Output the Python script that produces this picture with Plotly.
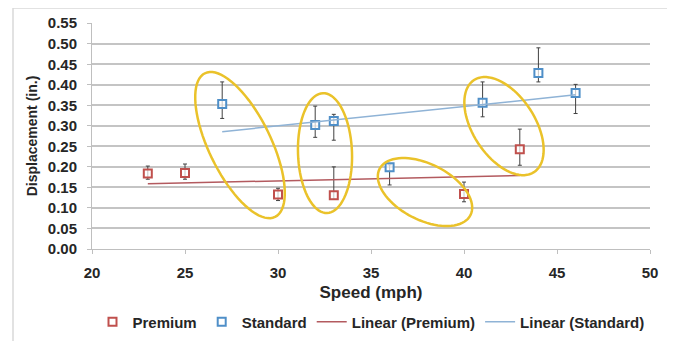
import numpy as np
import plotly.graph_objects as go

# ---- data ----
premium_speed = [23, 25, 30, 33, 40, 43]
premium_disp = [0.184, 0.185, 0.133, 0.131, 0.134, 0.243]
premium_err_plus = [0.018, 0.022, 0.015, 0.069, 0.029, 0.049]
premium_err_minus = [0.014, 0.015, 0.015, 0.010, 0.019, 0.039]

standard_speed = [27, 32, 33, 36, 41, 44, 46]
standard_disp = [0.353, 0.302, 0.312, 0.199, 0.356, 0.429, 0.380]
standard_err_plus = [0.054, 0.046, 0.016, 0.006, 0.051, 0.061, 0.021]
standard_err_minus = [0.035, 0.030, 0.047, 0.043, 0.034, 0.022, 0.050]

x_ticks = [20, 25, 30, 35, 40, 45, 50]
y_ticks = [0.00, 0.05, 0.10, 0.15, 0.20, 0.25, 0.30, 0.35, 0.40, 0.45, 0.50, 0.55]

# ---- layout constants ----
W, H = 675, 341
OFF = 8                      # page offset of the figure inside the browser window
PL, PT, PW, PH = 92, 23, 558, 226   # plot area as seen in the window
ML, MT = PL - OFF, PT - OFF
MR, MB = W - ML - PW, H - MT - PH
XR = [20, 50]
YR = [0, 0.55]

FONT = "Liberation Sans"
TXT = "#262626"
RED = "#c0504d"
BLUE = "#4f8fc8"


def px_to_data(px, py):
    x = XR[0] + (px - PL) / PW * (XR[1] - XR[0])
    y = YR[0] + (PT + PH - py) / PH * (YR[1] - YR[0])
    return x, y


def ellipse_path(cx, cy, a, b, ang_deg, n=80):
    t = np.linspace(0, 2 * np.pi, n, endpoint=False)
    th = np.deg2rad(ang_deg)
    ex = a * np.cos(t)
    ey = b * np.sin(t)
    xs = cx + ex * np.cos(th) - ey * np.sin(th)
    ys = cy + ex * np.sin(th) + ey * np.cos(th)
    pts = [px_to_data(x, y) for x, y in zip(xs, ys)]
    return "M " + " L ".join(f"{x:.4f},{y:.5f}" for x, y in pts) + " Z"


# ellipses (window-pixel centre, semi-axes, rotation)
ellipses = [
    (240, 145, 80, 31, 64),
    (325, 153, 60, 27, 88),
    (425, 192, 51, 28, 27),
    (504, 126, 55, 31, 57),
]

fig = go.Figure()


def trend(xs, ys):
    k, c = np.polyfit(xs, ys, 1)
    xx = np.array([min(xs), max(xs)])
    return xx, k * xx + c


fig.add_trace(go.Scatter(
    x=premium_speed, y=premium_disp, mode="markers", name="Premium",
    marker=dict(symbol="square", size=8, color="rgba(255,255,255,0.7)",
                line=dict(color=RED, width=2)),
    error_y=dict(type="data", array=premium_err_plus, arrayminus=premium_err_minus,
                 color="#404040", thickness=1, width=2),
))
fig.add_trace(go.Scatter(
    x=standard_speed, y=standard_disp, mode="markers", name="Standard",
    marker=dict(symbol="square", size=8, color="rgba(255,255,255,0.7)",
                line=dict(color=BLUE, width=2)),
    error_y=dict(type="data", array=standard_err_plus, arrayminus=standard_err_minus,
                 color="#404040", thickness=1, width=2),
))
tx, ty = trend(premium_speed, premium_disp)
fig.add_trace(go.Scatter(x=tx, y=ty, mode="lines", name="Linear (Premium)",
                         line=dict(color="#b35a5f", width=1.5)))
tx, ty = trend(standard_speed, standard_disp)
fig.add_trace(go.Scatter(x=tx, y=ty, mode="lines", name="Linear (Standard)",
                         line=dict(color="#8fb3d6", width=1.5)))

shapes = []
for cx, cy, a, b, ang in ellipses:
    shapes.append(dict(type="path", xref="x", yref="y", path=ellipse_path(cx, cy, a, b, ang),
                       line=dict(color="#eac22a", width=2.5), layer="above"))
# outer chart border
shapes.append(dict(type="rect", xref="paper", yref="paper",
                   x0=(13 - PL) / PW, x1=(669 - PL) / PW,
                   y0=(PT + PH - 345) / PH, y1=(PT + PH - 8) / PH,
                   line=dict(color="#d9d9d9", width=1.5), layer="below"))

fig.update_layout(
    width=W, height=H,
    margin=dict(l=ML, r=MR, t=MT, b=MB, autoexpand=False),
    paper_bgcolor="white", plot_bgcolor="white",
    font=dict(family=FONT, color=TXT),
    shapes=shapes,
    showlegend=True,
    legend=dict(orientation="h", x=0.5, xanchor="center", y=(PT + PH - 322) / PH,
                yanchor="middle", font=dict(family=FONT, size=15, color=TXT, weight="bold"),
                itemwidth=30, tracegroupgap=0, bgcolor="rgba(0,0,0,0)"),
    xaxis=dict(range=XR, tickvals=x_ticks, ticktext=[str(v) for v in x_ticks],
               showgrid=False, zeroline=False, showline=True, linecolor="#bfbfbf",
               linewidth=1, ticks="outside", ticklen=4, tickcolor="#bfbfbf",
               ticklabelstandoff=6,
               tickfont=dict(family=FONT, size=15, color=TXT, weight="bold"),
               title=dict(text="Speed (mph)", standoff=6,
                          font=dict(family=FONT, size=17, color=TXT, weight="bold"))),
    yaxis=dict(range=[YR[0], YR[1] + 0.0005], tickvals=y_ticks,
               ticktext=[f"{v:.2f}" for v in y_ticks],
               showgrid=True, gridcolor="#c4c4c4", gridwidth=1.5, zeroline=False,
               showline=True, linecolor="#bfbfbf", linewidth=1,
               ticks="outside", ticklen=4, tickcolor="#bfbfbf",
               ticklabelstandoff=7,
               tickfont=dict(family=FONT, size=15, color=TXT, weight="bold"),
               title=dict(text="Displacement (in.)", standoff=6,
                          font=dict(family=FONT, size=14, color=TXT, weight="bold"))),
)

fig.write_html("out.html")
